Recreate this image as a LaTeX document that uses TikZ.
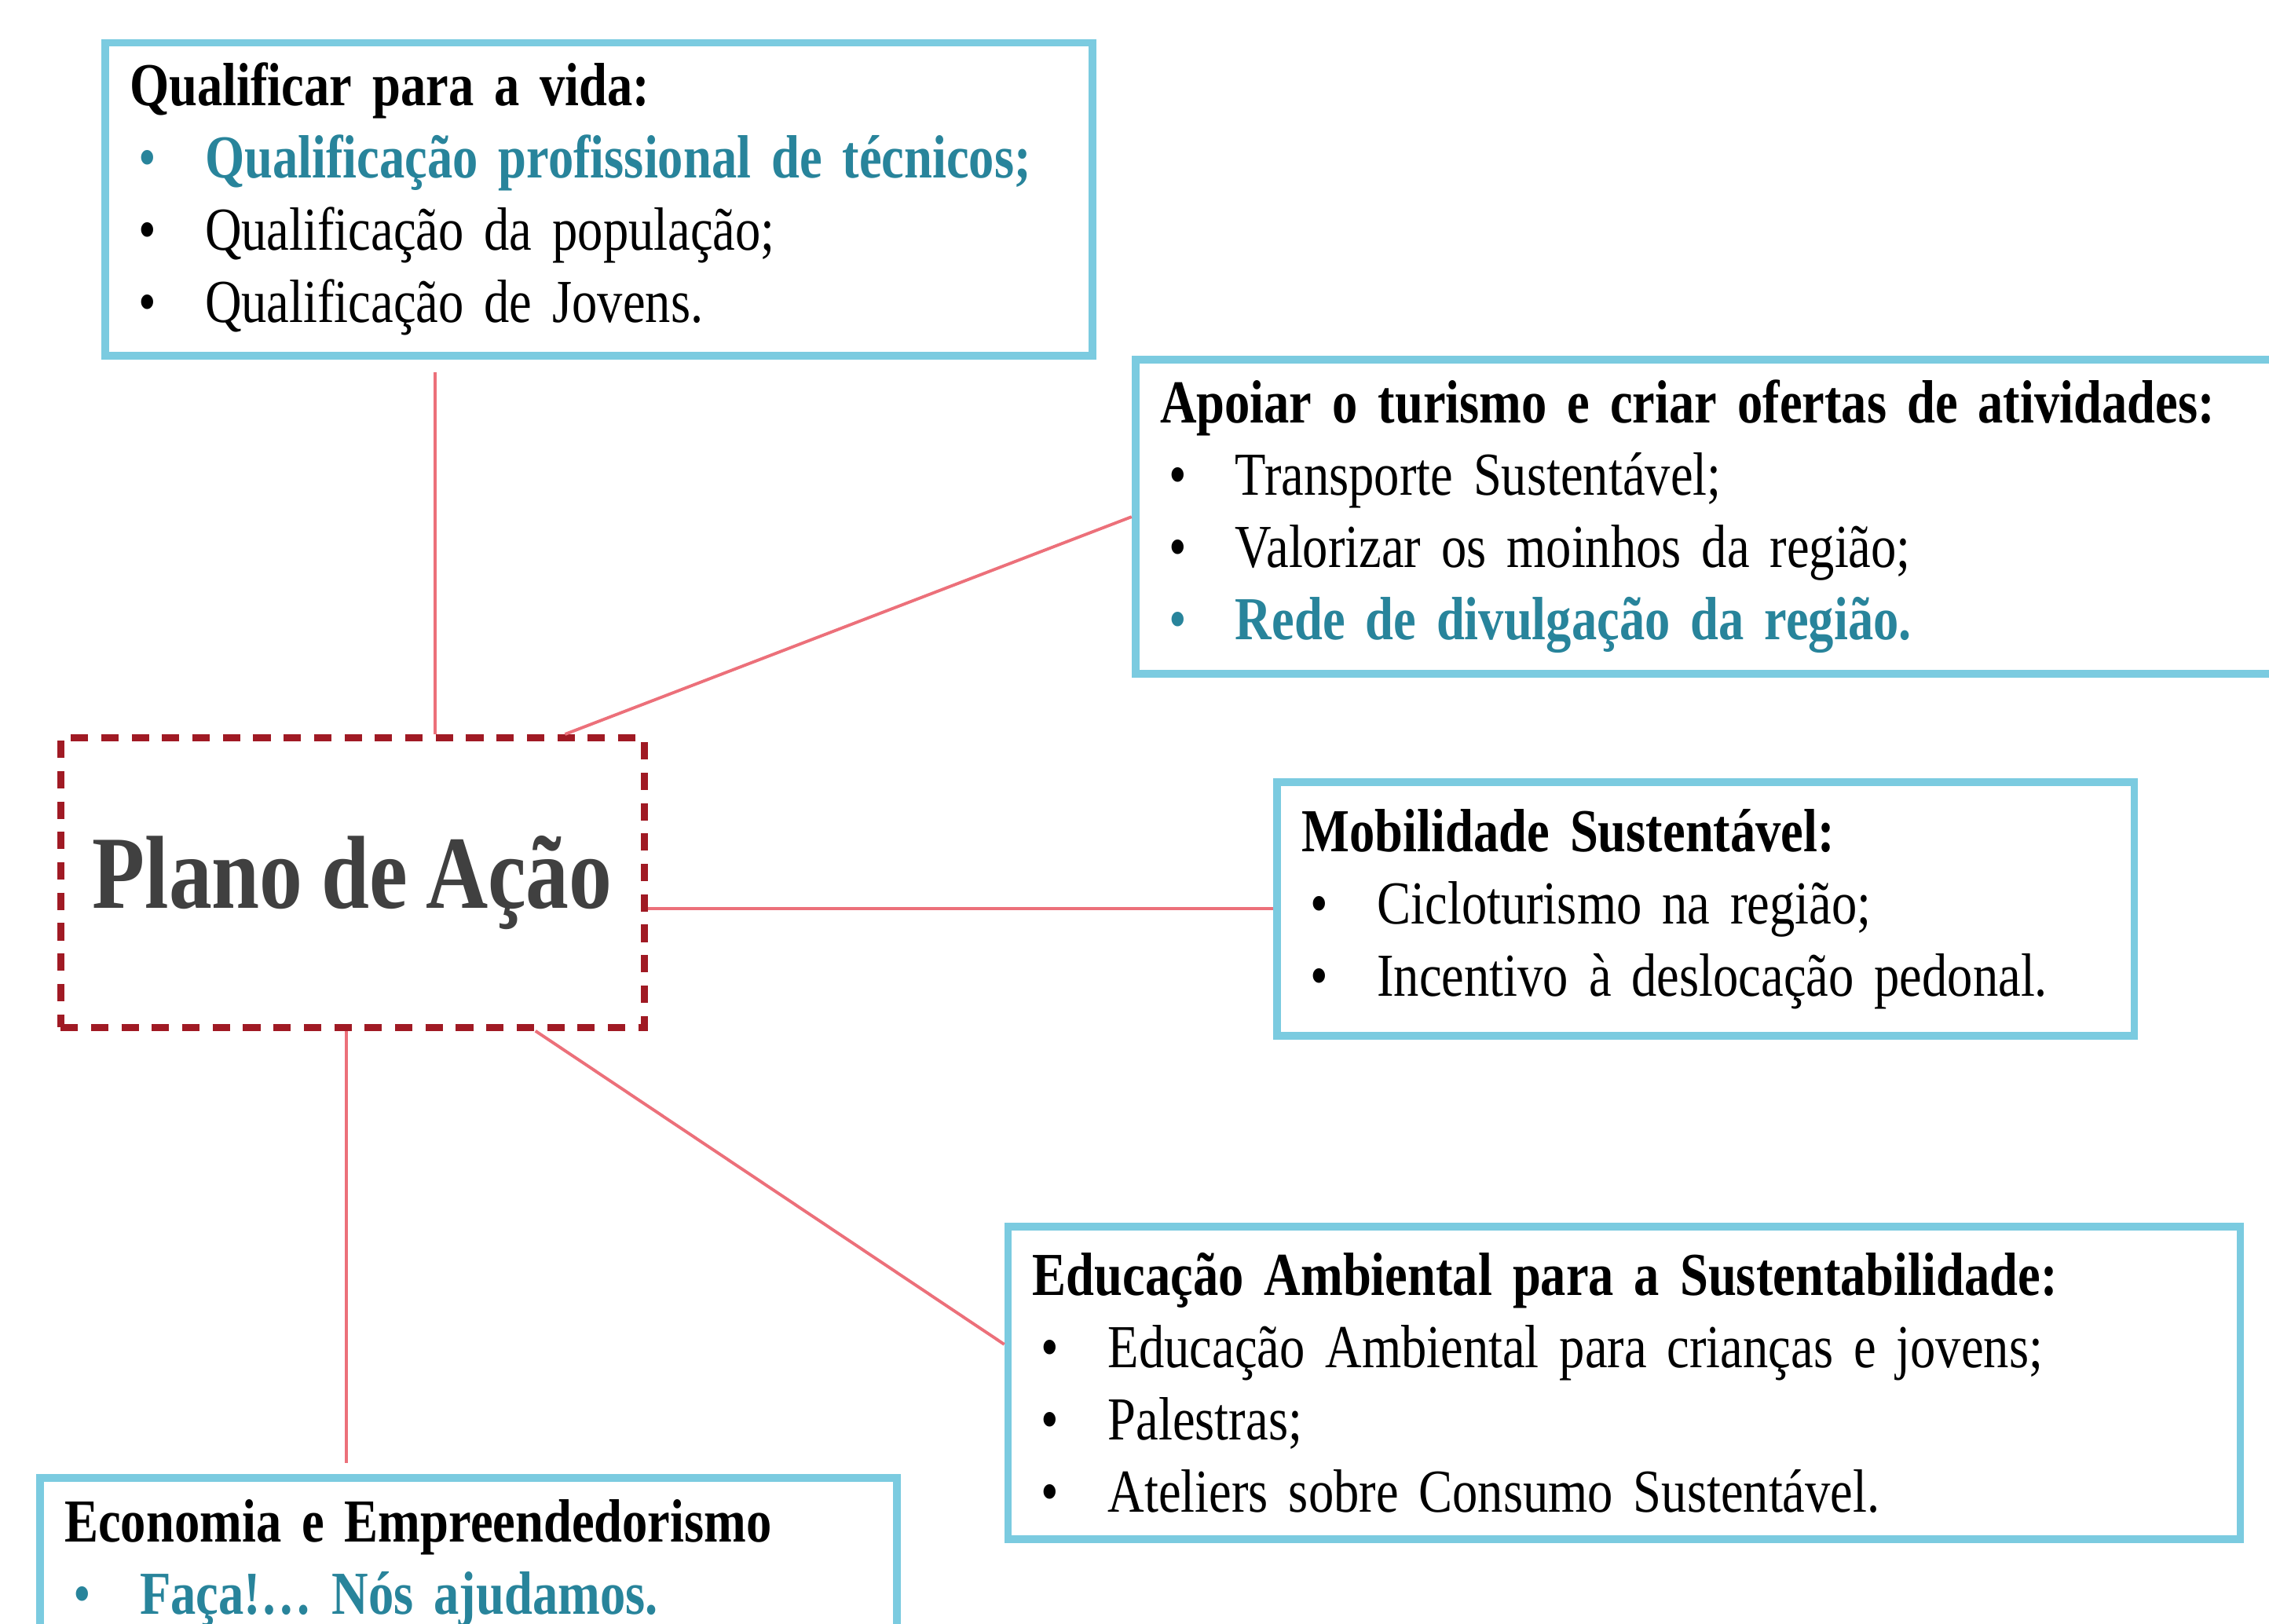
\documentclass[tikz,border=0pt]{standalone}
\usepackage{fontspec}
\setmainfont{Liberation Serif}[FakeStretch=0.83, WordSpace=0.85]
\usepackage{xcolor}
\usetikzlibrary{calc}
\definecolor{boxcyan}{RGB}{123,203,224}
\definecolor{planored}{RGB}{160,26,36}
\definecolor{linkred}{RGB}{236,112,122}
\definecolor{itemteal}{RGB}{40,132,155}
\definecolor{planogray}{RGB}{64,64,64}
\newcommand{\itm}{\hspace*{0.06cm}\makebox[0.46cm][l]{\textbullet}}

\tikzset{
	acao/.style={draw=boxcyan, line width=1.5pt, anchor=north west, align=left, inner xsep=0.17cm, font=\fontsize{12}{14.2}\selectfont},
	plano/.style={draw=planored, line width=1.4pt, dash pattern=on 0.12cm off 0.09cm, minimum width=4.03cm, minimum height=2cm, font=\fontsize{20.4}{24}\selectfont\bfseries, text=planogray},
	link/.style={color=linkred, line width=0.6pt}
}

\begin{document}
\begin{tikzpicture}[x=0.01cm, y=-0.01cm]
			\useasboundingbox (0,0) rectangle (1568,1122);
			
			\node[plano] (plano) at (243.5,610) {Plano de Ação};
			
			\node[acao, text width=6.48cm, minimum height=2.16cm] (qual) at (70,27)
			{\textbf{Qualificar para a vida:}\\
				{\color{itemteal}\itm\textbf{Qualificação profissional de técnicos;}}\\
				\itm Qualificação da população;\\
				\itm Qualificação de Jovens.};
			\node[acao, text width=7.56cm, minimum height=2.17cm] (tur) at (782,246)
			{\textbf{Apoiar o turismo e criar ofertas de atividades:}\\
				\itm Transporte Sustentável;\\
				\itm Valorizar os moinhos da região;\\
				{\color{itemteal}\itm\textbf{Rede de divulgação da região.}}};
			\node[acao, text width=5.58cm, minimum height=1.75cm] (mob) at (880,538)
			{\textbf{Mobilidade Sustentável:}\\
				\itm Cicloturismo na região;\\
				\itm Incentivo à deslocação pedonal.};
			\node[acao, text width=8.17cm, minimum height=2.16cm] (edu) at (694,845)
			{\textbf{Educação Ambiental para a Sustentabilidade:}\\
				\itm Educação Ambiental para crianças e jovens;\\
				\itm Palestras;\\
				\itm Ateliers sobre Consumo Sustentável.};
			\node[acao, text width=5.58cm, inner ysep=0.15cm] (eco) at (25,1019)
			{\textbf{Economia e Empreendedorismo}\\
				{\color{itemteal}\itm\textbf{Faça!… Nós ajudamos.}}};
			
			\coordinate (p-qual) at ($(plano.north west)!0.64!(plano.north east)$);
			\coordinate (p-tur) at ($(plano.north west)!0.86!(plano.north east)$);
			\coordinate (p-edu) at ($(plano.south west)!0.81!(plano.south east)$);
			\coordinate (p-eco) at ($(plano.south west)!0.49!(plano.south east)$);
			\coordinate (e-edu) at ($(edu.north west)!0.38!(edu.south west)$);
			
			\path[link]
			(p-qual) edge[shorten >=0.09cm] (p-qual |- qual.south)
			(p-tur) edge (tur.west)
			(plano.east |- mob.west) edge (mob.west)
			(p-edu) edge (e-edu)
			(p-eco) edge[shorten >=0.08cm] (p-eco |- eco.north);
		\end{tikzpicture}
\end{document}
